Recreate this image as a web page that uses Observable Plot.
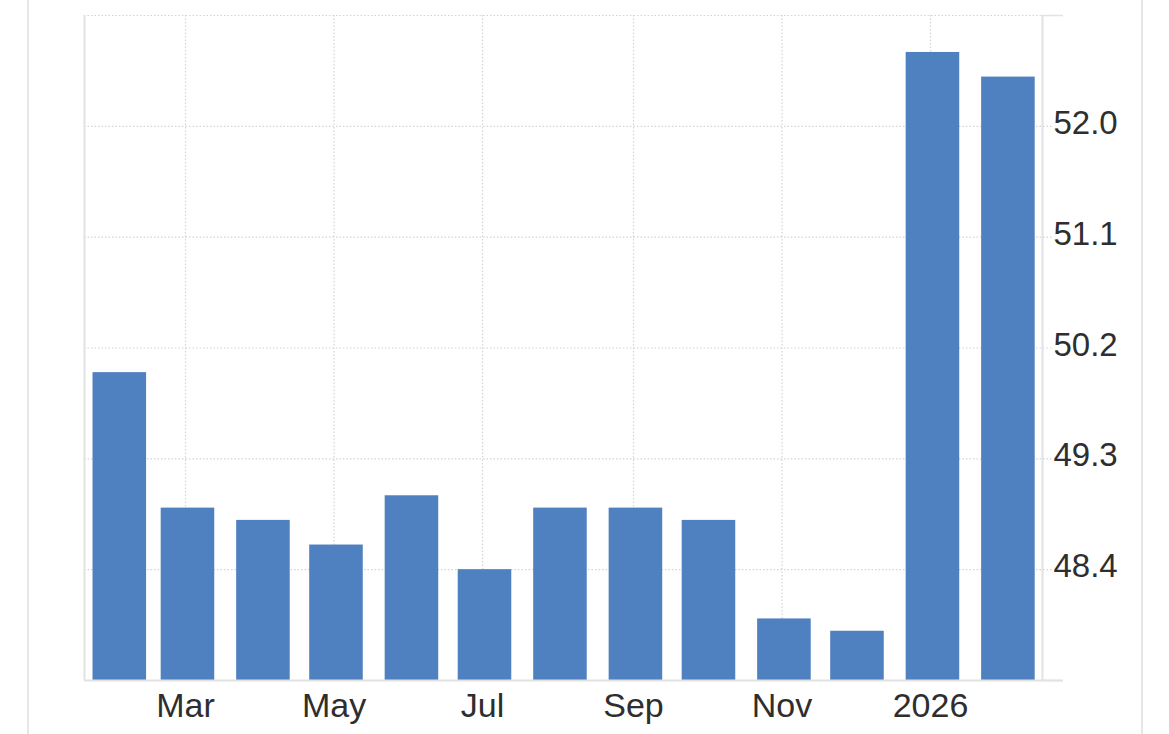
<!DOCTYPE html>
<html>
<head>
<meta charset="utf-8">
<script src="https://cdn.jsdelivr.net/npm/d3@7"></script>
<script src="https://cdn.jsdelivr.net/npm/@observablehq/plot@0.6"></script>
<style>
  body { margin: 0; background: #fff; }
  #card { position: absolute; left: 27px; top: 0; width: 1112px; height: 734px;
          border-left: 2px solid #e6e6e6; border-right: 2px solid #e6e6e6; }
  #chart { position: absolute; left: 0; top: 0; }
</style>
</head>
<body>
<div id="card"></div>
<div id="chart"></div>
<script>
// monthly readings, Feb 2025 - Feb 2026
const months = ["2025-02-01", "2025-03-01", "2025-04-01", "2025-05-01", "2025-06-01", "2025-07-01",
  "2025-08-01", "2025-09-01", "2025-10-01", "2025-11-01", "2025-12-01", "2026-01-01", "2026-02-01"];
const values = [50.0, 48.9, 48.8, 48.6, 49.0, 48.4, 48.9, 48.9, 48.8, 48.0, 47.9, 52.6, 52.4];

const xTicks = ["2025-03-01", "2025-05-01", "2025-07-01", "2025-09-01", "2025-11-01", "2026-01-01"];
const xTickLabels = ["Mar", "May", "Jul", "Sep", "Nov", "2026"];
const yTicks = [48.4, 49.3, 50.2, 51.1, 52.0];

const xDomain = [new Date("2025-01-18T12:00Z"), new Date("2026-02-16")];
const yDomain = [47.5, 52.9];

const data = months.map((m, i) => ({date: new Date(m), value: values[i]}));
const tickDates = xTicks.map(d => new Date(d));

const grid = {stroke: "#d4d4d4", strokeWidth: 1.2, strokeDasharray: "1.5,2"};
const edge = {stroke: "#e2e2e2", strokeWidth: 2};

let chart = Plot.plot({
  width: 1169,
  height: 734,
  marginTop: 15,
  marginBottom: 54,
  marginLeft: 84,
  marginRight: 127,
  style: {fontFamily: "Liberation Sans, Arial, sans-serif", color: "#2e2e2e", background: "transparent"},
  x: {type: "utc", domain: xDomain},
  y: {domain: yDomain},
  marks: [
    Plot.ruleX(tickDates, {...grid}),
    Plot.ruleY(yTicks, {...grid, insetRight: -10}),
    Plot.ruleY([yDomain[1]], {...grid}),
    Plot.rectY(data, {
      x1: d => d3.utcDay.offset(d.date, -10),
      x2: d => d3.utcDay.offset(d.date, 12),
      y1: yDomain[0],
      y2: "value",
      fill: "#4f80bf"
    }),
    Plot.ruleX(xDomain, {...edge}),
    Plot.ruleY([yDomain[0], yDomain[1]], {x1: xDomain[1], x2: xDomain[1], insetRight: -21, ...edge, strokeWidth: 1.5}),
    Plot.ruleY([yDomain[0]], {...edge, insetRight: -21}),
    Plot.axisX({
      ticks: tickDates,
      tickFormat: (d, i) => xTickLabels[i],
      tickSize: 0,
      tickPadding: 12,
      fontSize: 34,
      label: null
    }),
    Plot.axisY({
      anchor: "right",
      ticks: yTicks,
      tickFormat: d3.format(".1f"),
      tickSize: 0,
      tickPadding: 11,
      dy: -3,
      fontSize: 33,
      label: null
    })
  ]
});

d3.select("#chart").append(() => chart);
</script>
</body>
</html>
